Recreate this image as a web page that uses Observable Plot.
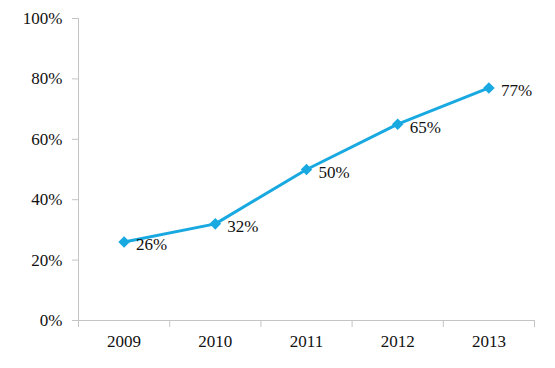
<!DOCTYPE html>
<html>
<head>
<meta charset="utf-8">
<script src="https://cdn.jsdelivr.net/npm/d3@7"></script>
<script src="https://cdn.jsdelivr.net/npm/@observablehq/plot@0.6"></script>
<style>
  html, body { margin: 0; padding: 0; background: #fff; }
  #chart svg { display: block; }
  #chart svg, #chart svg text { font-family: "Liberation Serif", "Times New Roman", Times, serif !important; }
</style>
</head>
<body>
<div id="chart"></div>
<script>
const years = [2009, 2010, 2011, 2012, 2013];
const values = [26, 32, 50, 65, 77];
const yTicks = [0, 20, 40, 60, 80, 100];

const data = years.map((year, i) => ({ year, value: values[i] }));
const bounds = [...years.map(y => y - 0.5), years[years.length - 1] + 0.5];

const axisColor = "#c4c4c4";
const lineColor = "#19a9e1";
const font = "Liberation Serif";

const chart = Plot.plot({
  width: 555,
  height: 368,
  marginLeft: 78,
  marginRight: 21,
  marginTop: 18,
  marginBottom: 48,
  style: { fontFamily: font, fontSize: "17px", color: "#111", background: "#fff" },
  x: { type: "linear", domain: [bounds[0], bounds[bounds.length - 1]] },
  y: { domain: [0, 100] },
  marks: [
    Plot.ruleY([0], { stroke: axisColor, strokeWidth: 1 }),
    Plot.ruleX([bounds[0]], { y1: 0, y2: 100, stroke: axisColor, strokeWidth: 1 }),
    Plot.axisY(yTicks, {
      tickSize: 6, tickPadding: 10, stroke: axisColor,
      tickFormat: d => d + "%", fontSize: 17, fill: "#111", label: null
    }),
    Plot.axisX(bounds, {
      tickSize: 7, stroke: axisColor, tickFormat: () => "", label: null
    }),
    Plot.axisX(years, {
      tickSize: 0, tickPadding: 14, tickFormat: d => String(d),
      fontSize: 17, fill: "#111", label: null
    }),
    Plot.line(data, { x: "year", y: "value", stroke: lineColor, strokeWidth: 3 }),
    Plot.dot(data, { x: "year", y: "value", symbol: "diamond2", r: 5.2, fill: lineColor, stroke: "none" }),
    Plot.text(data, {
      x: "year", y: "value", text: d => d.value + "%",
      dx: 12, dy: 3, textAnchor: "start", fontSize: 17, fill: "#111"
    })
  ]
});

document.getElementById("chart").appendChild(chart);
</script>
</body>
</html>
